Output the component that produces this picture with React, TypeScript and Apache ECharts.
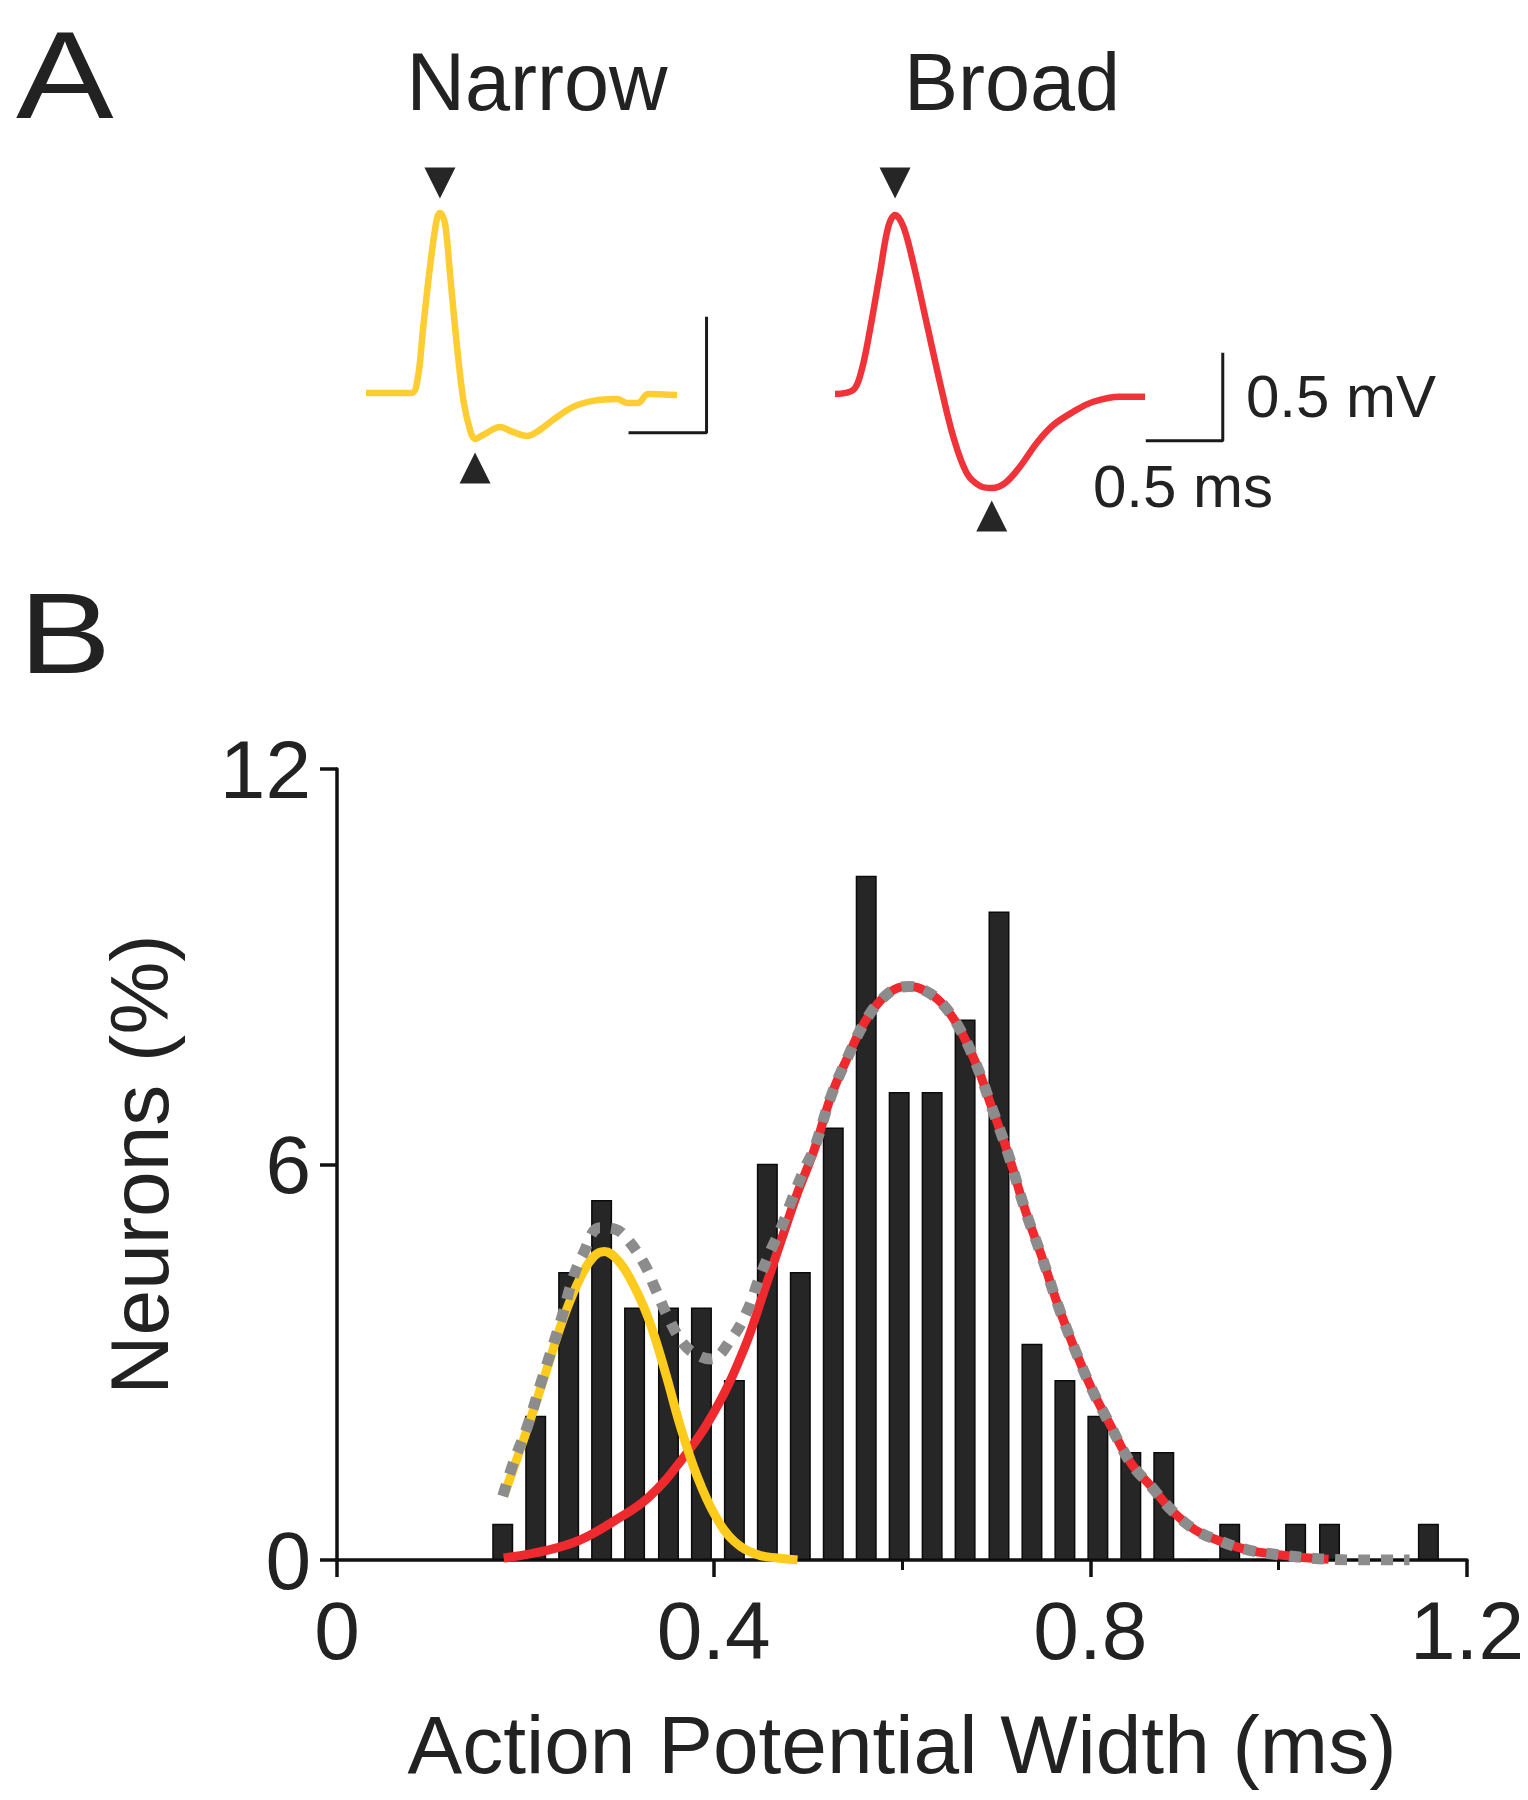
import React, { useEffect, useRef } from "react";
import * as echarts from "echarts";

const FONT = "'Liberation Sans', Arial, Helvetica, sans-serif";
const INK = "#222222";

// ---------- Panel A: example waveforms (time in ms, voltage in mV) ----------
const narrowT = [0, 0.154, 0.293, 0.333, 0.365, 0.41, 0.453, 0.474, 0.506, 0.538, 0.581, 0.624, 0.667, 0.699, 0.75, 0.859, 0.942, 1.032, 1.115, 1.199, 1.327, 1.455, 1.609, 1.673, 1.744, 1.808, 1.994];
const narrowV = [0, 0, 0, 0.069, 0.272, 0.543, 0.746, 0.776, 0.733, 0.517, 0.216, -0.03, -0.159, -0.198, -0.181, -0.147, -0.168, -0.185, -0.159, -0.116, -0.06, -0.034, -0.026, -0.043, -0.043, -0.004, -0.009];

const broadT = [0, 0.119, 0.173, 0.227, 0.292, 0.346, 0.39, 0.444, 0.508, 0.595, 0.682, 0.768, 0.855, 0.942, 1.018, 1.104, 1.201, 1.31, 1.418, 1.547, 1.677, 1.851, 2.013];
const broadV = [0, 0.023, 0.136, 0.364, 0.688, 0.951, 1.017, 0.951, 0.744, 0.403, 0.063, -0.243, -0.449, -0.523, -0.534, -0.506, -0.413, -0.278, -0.176, -0.101, -0.044, -0.015, -0.015];

// scale bars: corner (time, voltage) and lengths
const narrowBarCorner = [2.183, -0.171];
const broadBarCorner = [2.518, -0.265];
const barTimeLen = 0.5; // ms
const barVoltLen = 0.5; // mV

// ---------- Panel B: histogram ----------
const binCenters = [0.176, 0.211, 0.246, 0.281, 0.316, 0.352, 0.387, 0.422, 0.457, 0.492, 0.527, 0.562, 0.597, 0.632, 0.667, 0.703, 0.738, 0.773, 0.808, 0.843, 0.878, 0.913, 0.948, 0.983, 1.018, 1.054, 1.089, 1.124, 1.159];
const neuronPct = [0.55, 2.19, 4.37, 5.46, 3.83, 3.83, 3.83, 2.73, 6.01, 4.37, 6.56, 10.38, 7.1, 7.1, 8.2, 9.84, 3.28, 2.73, 2.19, 1.64, 1.64, 0, 0.55, 0, 0.55, 0.55, 0, 0, 0.55];

// fitted narrow component (yellow)
const narrowFitX = [0.177, 0.199, 0.22, 0.241, 0.259, 0.273, 0.284, 0.298, 0.312, 0.33, 0.348, 0.365, 0.383, 0.401, 0.422, 0.447, 0.468, 0.489];
const narrowFitY = [0.97, 1.86, 2.77, 3.69, 4.3, 4.61, 4.68, 4.55, 4.25, 3.69, 2.88, 2.01, 1.25, 0.69, 0.28, 0.08, 0.03, 0.0];

// fitted broad component (red)
const broadFitX = [0.177, 0.224, 0.259, 0.294, 0.33, 0.365, 0.401, 0.433, 0.454, 0.472, 0.489, 0.507, 0.525, 0.543, 0.56, 0.578, 0.596, 0.608, 0.624, 0.642, 0.66, 0.678, 0.695, 0.713, 0.731, 0.749, 0.766, 0.784, 0.802, 0.82, 0.843, 0.865, 0.886, 0.911, 0.939, 0.968, 1.0, 1.032, 1.053];
const broadFitY = [0.03, 0.15, 0.31, 0.59, 0.94, 1.5, 2.26, 3.23, 4.1, 4.86, 5.57, 6.23, 7.05, 7.65, 8.15, 8.5, 8.68, 8.7, 8.64, 8.45, 8.09, 7.55, 6.88, 6.15, 5.3, 4.58, 3.85, 3.18, 2.58, 2.08, 1.47, 1.11, 0.76, 0.46, 0.28, 0.15, 0.08, 0.03, 0.01];

// combined fit (grey dotted)
const sumFitX = [0.176, 0.188, 0.202, 0.218, 0.24, 0.25, 0.261, 0.279, 0.295, 0.307, 0.326, 0.337, 0.353, 0.369, 0.384, 0.397, 0.419, 0.436, 0.447, 0.461, 0.472, 0.484, 0.497, 0.507, 0.525, 0.543, 0.56, 0.578, 0.596, 0.608, 0.624, 0.642, 0.66, 0.678, 0.695, 0.713, 0.731, 0.749, 0.766, 0.784, 0.802, 0.82, 0.843, 0.865, 0.886, 0.911, 0.939, 0.968, 1.0, 1.032, 1.053, 1.08, 1.11, 1.139];
const sumFitY = [0.97, 1.5, 2.02, 2.75, 3.74, 4.25, 4.63, 5.04, 5.02, 4.89, 4.5, 4.15, 3.64, 3.26, 3.1, 3.05, 3.36, 3.79, 4.22, 4.71, 5.05, 5.5, 5.95, 6.25, 7.05, 7.65, 8.15, 8.5, 8.68, 8.7, 8.64, 8.45, 8.09, 7.55, 6.88, 6.15, 5.3, 4.58, 3.85, 3.18, 2.58, 2.08, 1.47, 1.11, 0.76, 0.46, 0.28, 0.15, 0.08, 0.03, 0.01, 0, 0, 0];

const xTickMajor = [0, 0.4, 0.8, 1.2];
const xTickMinor = [0.6, 1.0];
const yTicks = [0, 6, 12];

const zip = (a: number[], b: number[]) => a.map((v, i) => [v, b[i]]);

function peakMarkers(t: number[], v: number[]) {
  let iMax = 0;
  let iMin = 0;
  v.forEach((val, i) => {
    if (val > v[iMax]) iMax = i;
    if (val < v[iMin]) iMin = i;
  });
  return { peak: [t[iMax], v[iMax]], trough: [t[iMin], v[iMin]] };
}

function scaleBar(corner: number[]) {
  return [
    [corner[0], corner[1] + barVoltLen],
    [corner[0], corner[1]],
    [corner[0] - barTimeLen, corner[1]],
  ];
}

function buildOption() {
  const nm = peakMarkers(narrowT, narrowV);
  const bm = peakMarkers(broadT, broadV);
  const tri = (xi: number, pt: number[], down: boolean, off: number) => ({
    type: "scatter",
    xAxisIndex: xi,
    yAxisIndex: xi === 0 ? 0 : 1,
    data: [pt],
    symbol: "triangle",
    symbolSize: [31, 31],
    symbolRotate: down ? 180 : 0,
    symbolOffset: [0, off],
    itemStyle: { color: "#262626", opacity: 1 },
    silent: true,
    z: 5,
  });

  const labelStyle = { fontFamily: FONT, fontSize: 82, color: INK };

  return {
    animation: false,
    backgroundColor: "#ffffff",
    textStyle: { fontFamily: FONT },
    grid: [
      { left: 366, top: 161, width: 343.2, height: 338.7 },
      { left: 835, top: 147.6, width: 400.4, height: 387.2 },
      { left: 337, top: 769, width: 1130, height: 791 },
    ],
    xAxis: [
      { type: "value", gridIndex: 0, min: 0, max: 2.2, show: false },
      { type: "value", gridIndex: 1, min: 0, max: 2.6, show: false },
      {
        type: "value",
        gridIndex: 2,
        min: 0,
        max: 1.2,
        interval: 0.4,
        name: "Action Potential Width (ms)",
        nameLocation: "middle",
        nameGap: 143,
        nameTextStyle: { fontFamily: FONT, fontSize: 82, color: INK },
        axisLine: { show: true, onZero: false, lineStyle: { color: "#111", width: 3.5 } },
        axisTick: { show: true, length: 17, inside: false, customValues: xTickMajor, lineStyle: { color: "#111", width: 3.5 } },
        axisLabel: { ...labelStyle, margin: 29, customValues: xTickMajor, formatter: (v: number) => (v === 0 ? "0" : String(v)) },
        splitLine: { show: false },
      },
      {
        type: "value",
        gridIndex: 2,
        min: 0,
        max: 1.2,
        position: "bottom",
        axisLine: { show: false },
        axisTick: { show: true, length: 10, customValues: xTickMinor, lineStyle: { color: "#111", width: 3 } },
        axisLabel: { show: false },
        splitLine: { show: false },
      },
    ],
    yAxis: [
      { type: "value", gridIndex: 0, min: -0.46, max: 1.0, show: false },
      { type: "value", gridIndex: 1, min: -0.8, max: 1.4, show: false },
      {
        type: "value",
        gridIndex: 2,
        min: 0,
        max: 12,
        interval: 6,
        name: "Neurons (%)",
        nameLocation: "middle",
        nameGap: 157,
        nameRotate: 90,
        nameTextStyle: { fontFamily: FONT, fontSize: 82, color: INK },
        axisLine: { show: true, onZero: false, lineStyle: { color: "#111", width: 3.5 } },
        axisTick: { show: true, length: 17, customValues: yTicks, lineStyle: { color: "#111", width: 3.5 } },
        axisLabel: { ...labelStyle, margin: 26, customValues: yTicks },
        splitLine: { show: false },
      },
    ],
    series: [
      {
        type: "line",
        xAxisIndex: 0,
        yAxisIndex: 0,
        data: zip(narrowT, narrowV),
        smooth: 0.35,
        symbol: "none",
        lineStyle: { color: "#FDCD32", width: 6.5 },
        silent: true,
      },
      {
        type: "line",
        xAxisIndex: 0,
        yAxisIndex: 0,
        data: scaleBar(narrowBarCorner),
        symbol: "none",
        lineStyle: { color: "#1a1a1a", width: 3 },
        silent: true,
      },
      tri(0, nm.peak, true, -30),
      tri(0, nm.trough, false, 29),
      {
        type: "line",
        xAxisIndex: 1,
        yAxisIndex: 1,
        data: zip(broadT, broadV),
        smooth: 0.35,
        symbol: "none",
        lineStyle: { color: "#EF3339", width: 6.5 },
        silent: true,
      },
      {
        type: "line",
        xAxisIndex: 1,
        yAxisIndex: 1,
        data: scaleBar(broadBarCorner),
        symbol: "none",
        lineStyle: { color: "#1a1a1a", width: 3 },
        silent: true,
      },
      tri(1, bm.peak, true, -32),
      tri(1, bm.trough, false, 28),
      {
        type: "bar",
        xAxisIndex: 2,
        yAxisIndex: 2,
        data: zip(binCenters, neuronPct),
        barWidth: 21,
        itemStyle: { color: "#262626", borderColor: "#0a0a0a", borderWidth: 1.5 },
        silent: true,
        z: 2,
      },
      {
        type: "line",
        xAxisIndex: 2,
        yAxisIndex: 2,
        data: zip(broadFitX, broadFitY),
        smooth: 0.4,
        symbol: "none",
        lineStyle: { color: "#EE2A2E", width: 9 },
        silent: true,
        z: 3,
      },
      {
        type: "line",
        xAxisIndex: 2,
        yAxisIndex: 2,
        data: zip(narrowFitX, narrowFitY),
        smooth: 0.4,
        symbol: "none",
        lineStyle: { color: "#FDCB1C", width: 9 },
        silent: true,
        z: 4,
      },
      {
        type: "line",
        xAxisIndex: 2,
        yAxisIndex: 2,
        data: zip(sumFitX, sumFitY),
        smooth: 0.4,
        symbol: "none",
        lineStyle: { color: "#8C8C8C", width: 11, type: [12, 11], cap: "butt" },
        silent: true,
        z: 5,
      },
    ],
    graphic: [
      { type: "text", x: 16, y: 75, scaleX: 1.18, style: { text: "A", fontFamily: FONT, fontSize: 124, fill: INK, align: "left", verticalAlign: "middle" } },
      { type: "text", x: 19, y: 633, scaleX: 1.2, style: { text: "B", fontFamily: FONT, fontSize: 115, fill: INK, align: "left", verticalAlign: "middle" } },
      { type: "text", x: 537, y: 82, style: { text: "Narrow", fontFamily: FONT, fontSize: 81, fill: INK, align: "center", verticalAlign: "middle" } },
      { type: "text", x: 1012, y: 82, style: { text: "Broad", fontFamily: FONT, fontSize: 81, fill: INK, align: "center", verticalAlign: "middle" } },
      { type: "text", x: 1246, y: 396, style: { text: "0.5 mV", fontFamily: FONT, fontSize: 60, fill: INK, align: "left", verticalAlign: "middle" } },
      { type: "text", x: 1093, y: 486, style: { text: "0.5 ms", fontFamily: FONT, fontSize: 60, fill: INK, align: "left", verticalAlign: "middle" } },
    ],
  };
}

export default function App() {
  const ref = useRef<HTMLDivElement>(null);
  useEffect(() => {
    if (!ref.current) return;
    const chart = echarts.init(ref.current, null, { renderer: "svg" });
    chart.setOption(buildOption() as any);
    return () => chart.dispose();
  }, []);
  return (
    <div
      ref={ref}
      style={{ position: "absolute", left: 0, top: 0, width: 1528, height: 1800, background: "#fff" }}
    />
  );
}
